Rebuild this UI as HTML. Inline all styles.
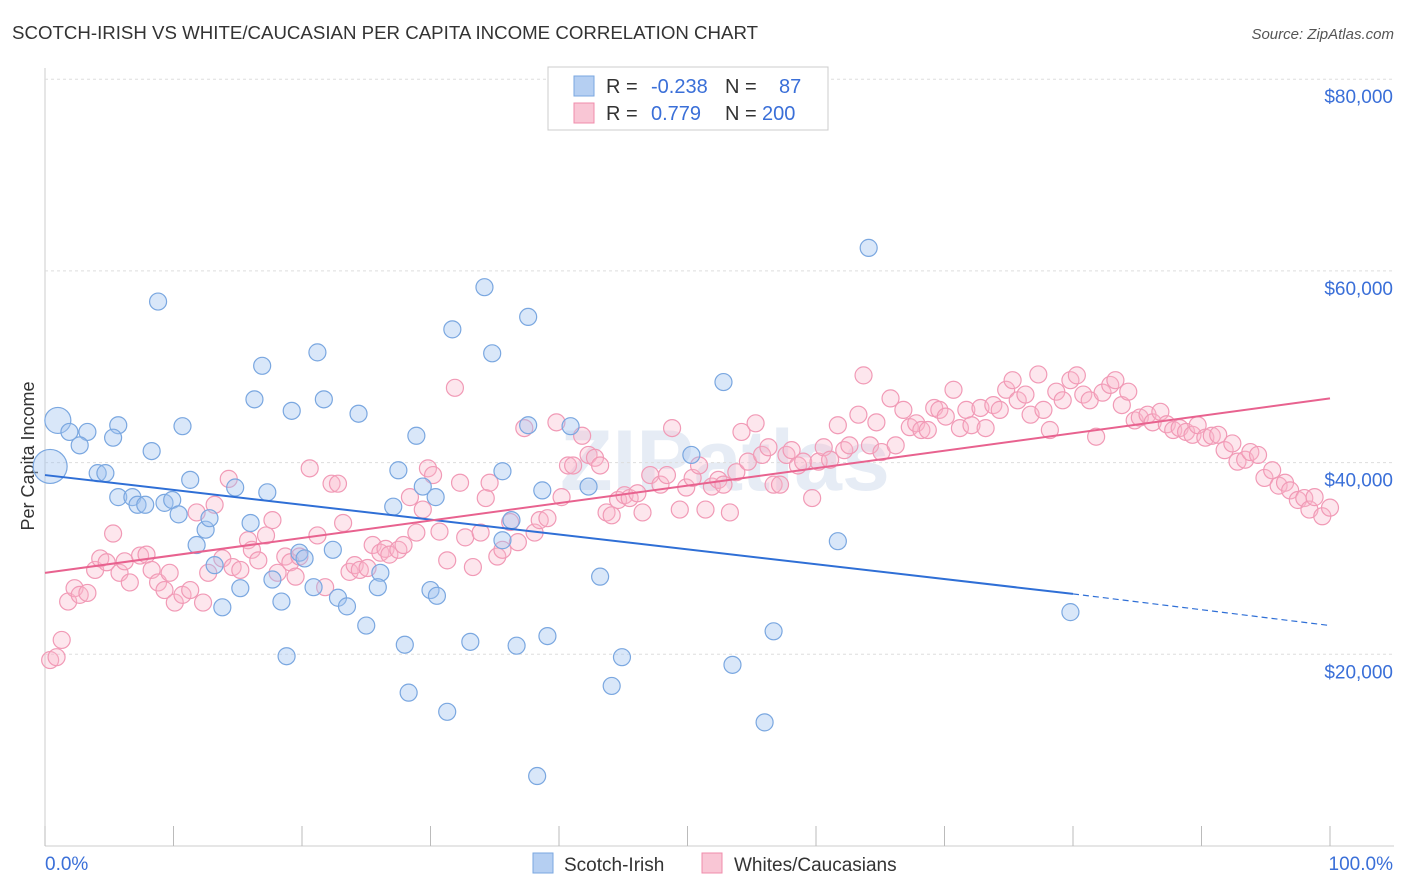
<!DOCTYPE html>
<html><head><meta charset="utf-8">
<style>
body{margin:0;background:#fff;font-family:"Liberation Sans",sans-serif;}
#wrap{position:relative;width:1406px;height:892px;overflow:hidden;}
</style></head>
<body>
<div id="wrap">
<svg id="svg" width="1406" height="892" xmlns="http://www.w3.org/2000/svg">
<text x="12" y="39" font-size="18" fill="#333" textLength="746" lengthAdjust="spacingAndGlyphs">SCOTCH-IRISH VS WHITE/CAUCASIAN PER CAPITA INCOME CORRELATION CHART</text>
<text x="1394" y="39" font-size="15" fill="#555" font-style="italic" text-anchor="end">Source: ZipAtlas.com</text>
<text x="34" y="456" font-size="18" fill="#333" text-anchor="middle" transform="rotate(-90 34 456)">Per Capita Income</text>
<text x="560" y="490" font-size="86" fill="#e6ecf5" font-weight="bold">ZIPatlas</text>
<g id="grid"></g>
<g id="marks"></g>
<g id="trends"></g>
<g>
<rect x="548" y="67" width="280" height="63" fill="#fff" stroke="#ccc"/>
<rect x="574" y="76" width="20" height="20" fill="#b5cff2" stroke="#7aa7e0"/>
<rect x="574" y="103" width="20" height="20" fill="#f9c6d5" stroke="#f08cab"/>
<text x="606" y="93" font-size="20" fill="#333">R = </text><text x="651" y="93" font-size="20" fill="#3a6fd8">-0.238</text>
<text x="725" y="93" font-size="20" fill="#333">N = </text><text x="779" y="93" font-size="20" fill="#3a6fd8">87</text>
<text x="606" y="120" font-size="20" fill="#333">R = </text><text x="651" y="120" font-size="20" fill="#3a6fd8">0.779</text>
<text x="725" y="120" font-size="20" fill="#333">N = </text><text x="762" y="120" font-size="20" fill="#3a6fd8">200</text>
</g>
<g>
<rect x="533" y="853" width="20" height="20" fill="#b5cff2" stroke="#7aa7e0"/>
<text x="564" y="871" font-size="19" fill="#333">Scotch-Irish</text>
<rect x="702" y="853" width="20" height="20" fill="#f9c6d5" stroke="#f08cab"/>
<text x="734" y="871" font-size="19" fill="#333">Whites/Caucasians</text>
</g>
<text x="45" y="870" font-size="19" fill="#3a6fd8">0.0%</text>
<text x="1393" y="870" font-size="19" fill="#3a6fd8" text-anchor="end">100.0%</text>
</svg>
</div>
<script>
const yTicks=[20000,40000,60000,80000];
const yTickLabels=["$20,000","$40,000","$60,000","$80,000"];
const xTicks=[0,10,20,30,40,50,60,70,80,90,100];
const blueX=[1.0,0.4,1.9,3.3,2.7,5.7,5.3,4.1,4.7,8.3,8.8,10.7,11.3,5.7,6.8,7.2,7.8,9.3,9.9,10.4,11.8,12.5,12.8,13.2,13.8,14.8,15.2,16.0,16.3,16.9,17.3,17.7,18.4,18.8,19.2,19.8,20.2,20.9,21.2,21.7,22.4,22.8,23.5,24.4,25.0,26.1,25.9,27.1,27.5,28.0,28.3,28.9,29.4,30.0,30.5,30.4,31.3,31.7,33.1,34.2,34.8,35.6,35.6,36.3,36.7,37.6,37.6,38.3,38.7,39.1,40.9,42.3,43.2,44.1,44.9,50.3,52.8,53.5,56.0,56.7,61.7,64.1,79.8];
const blueY=[44.4,39.6,43.2,43.2,41.8,43.9,42.6,38.9,38.9,41.2,56.8,43.8,38.2,36.4,36.4,35.6,35.6,35.8,36.1,34.6,31.4,33.0,34.2,29.3,24.9,37.4,26.9,33.7,46.6,50.1,36.9,27.8,25.5,19.8,45.4,30.6,30.0,27.0,51.5,46.6,30.9,25.9,25.0,45.1,23.0,28.5,27.0,35.4,39.2,21.0,16.0,42.8,37.5,26.7,26.1,36.4,14.0,53.9,21.3,58.3,51.4,39.1,31.9,34.0,20.9,55.2,43.9,7.3,37.1,21.9,43.8,37.5,28.1,16.7,19.7,40.8,48.4,18.9,12.9,22.4,31.8,62.4,24.4];
const pinkX=[0.4,0.9,1.3,1.8,2.3,2.7,3.3,3.9,4.3,4.8,5.3,5.8,6.2,6.6,7.4,7.9,8.3,8.8,9.3,9.7,10.1,10.7,11.3,11.8,12.3,12.7,13.2,13.8,14.3,14.6,15.2,15.8,16.1,16.6,17.2,17.7,18.1,18.7,19.1,19.5,19.8,20.6,21.2,21.8,22.3,22.8,23.2,23.7,24.1,24.5,25.1,25.5,26.1,26.5,26.8,27.5,27.9,28.4,28.9,29.4,29.8,30.2,30.7,31.3,31.9,32.3,32.7,33.3,33.9,34.3,34.6,35.2,35.6,36.2,36.8,37.3,38.1,38.5,39.1,39.8,40.2,40.7,41.1,41.8,42.3,42.8,43.2,43.7,44.1,44.6,45.1,45.5,46.1,46.5,47.1,47.9,48.4,48.8,49.4,49.9,50.4,50.9,51.4,51.9,52.4,52.8,53.3,53.8,54.2,54.7,55.3,55.8,56.3,56.7,57.2,57.7,58.1,58.6,59.0,59.7,60.2,60.6,61.1,61.7,62.2,62.6,63.3,63.7,64.2,64.7,65.1,65.8,66.2,66.8,67.3,67.8,68.2,68.7,69.2,69.6,70.1,70.7,71.2,71.7,72.1,72.8,73.2,73.8,74.3,74.8,75.3,75.7,76.3,76.7,77.3,77.7,78.2,78.7,79.2,79.8,80.3,80.8,81.3,81.8,82.3,82.9,83.3,83.8,84.3,84.8,85.2,85.8,86.2,86.8,87.3,87.8,88.3,88.8,89.3,89.7,90.3,90.8,91.3,91.8,92.4,92.8,93.4,93.8,94.4,94.9,95.5,96.0,96.5,96.9,97.5,98.0,98.4,98.8,99.4,100.0];
const pinkY=[19.4,19.7,21.5,25.5,26.9,26.2,26.4,28.8,30.0,29.6,32.6,28.5,29.7,27.5,30.3,30.4,28.8,27.5,26.7,28.5,25.4,26.2,26.7,34.8,25.4,28.5,35.6,30.0,38.3,29.1,28.8,31.9,30.9,29.8,32.4,34.0,28.5,30.2,29.6,28.1,30.2,39.4,32.4,27.0,37.8,37.8,33.7,28.6,29.3,28.8,29.0,31.4,30.6,31.0,30.4,30.9,31.4,36.4,32.7,35.1,39.4,38.7,32.8,29.8,47.8,37.9,32.2,29.1,32.7,36.3,37.9,30.2,30.9,33.8,31.7,43.6,32.7,34.0,34.2,44.2,36.4,39.7,39.7,42.8,40.8,40.5,39.7,34.8,34.5,36.1,36.6,36.3,36.8,34.8,38.7,37.7,38.7,43.6,35.1,37.4,38.4,39.7,35.1,37.5,38.2,37.7,34.8,39.0,43.2,40.1,44.1,40.8,41.6,37.7,37.7,40.8,41.3,39.7,40.1,36.3,40.1,41.6,40.3,43.9,41.3,41.8,45.0,49.1,41.8,44.2,41.1,46.7,41.8,45.5,43.7,44.1,43.4,43.4,45.7,45.5,44.8,47.6,43.6,45.5,43.9,45.7,43.6,46.0,45.5,47.6,48.6,46.5,47.1,45.0,49.2,45.5,43.4,47.4,46.5,48.6,49.1,47.1,46.5,42.7,47.3,48.1,48.6,46.0,47.4,44.4,44.7,45.0,44.2,45.3,44.0,43.4,43.6,43.2,42.9,43.9,42.6,42.8,42.9,41.3,42.0,40.1,40.3,41.1,40.8,38.4,39.2,37.6,37.9,37.1,36.1,36.3,35.1,36.4,34.4,35.3];
const blueTrendX=[0,80,100];
const blueTrendY=[38.7,26.3,23.0];
const pinkTrendX=[0,100];
const pinkTrendY=[28.5,46.7];

const NS="http://www.w3.org/2000/svg";
const X0=45,X1=1330,Y0=846,PX_PER_K=9.585;
function sx(p){return X0+(X1-X0)*p/100;}
function sy(k){return Y0-k*PX_PER_K;}
function mk(tag,attrs,parent){const e=document.createElementNS(NS,tag);for(const k in attrs)e.setAttribute(k,attrs[k]);parent.appendChild(e);return e;}
const grid=document.getElementById('grid'),marks=document.getElementById('marks'),trends=document.getElementById('trends');

let l=mk('line',{x1:X0,y1:68,x2:X0,y2:Y0,stroke:'#ccc'},grid);


l=mk('line',{x1:X0,y1:Y0,x2:1394,y2:Y0,stroke:'#ccc'},grid);


yTicks.forEach((v,i)=>{
  const y=sy(v/1000);
  const g=mk('line',{x1:X0,y1:y,x2:1394,y2:y,stroke:'#ddd','stroke-dasharray':'3,3'},grid);
  
  
  const t=mk('text',{x:1393,y:y+24,'font-size':19,fill:'#3a6fd8','text-anchor':'end'},grid);
  t.textContent=yTickLabels[i];
  
  
});
xTicks.forEach(p=>{
  const x=sx(p);
  const t=mk('line',{x1:x,y1:826,x2:x,y2:Y0,stroke:'#bbb'},grid);
  
  
});
pinkX.forEach((p,i)=>{
  const c=mk('circle',{cx:sx(p),cy:sy(pinkY[i]),r:8.5,fill:'rgba(248,182,202,0.35)',stroke:'#f19ab6','stroke-width':1.2},marks);
  
  
});
blueX.forEach((p,i)=>{
  const r=i<2?(i==0?13:17):8.5;
  const c=mk('circle',{cx:sx(p),cy:sy(blueY[i]),r:r,fill:'rgba(160,196,240,0.4)',stroke:'#7aa7e0','stroke-width':1.2},marks);
  
  
});
let t1=mk('line',{x1:sx(blueTrendX[0]),y1:sy(blueTrendY[0]),x2:sx(blueTrendX[1]),y2:sy(blueTrendY[1]),stroke:'#2f6fd6','stroke-width':2},trends);


let t2=mk('line',{x1:sx(blueTrendX[1]),y1:sy(blueTrendY[1]),x2:sx(blueTrendX[2]),y2:sy(blueTrendY[2]),stroke:'#2f6fd6','stroke-width':1.2,'stroke-dasharray':'6,4'},trends);


let t3=mk('line',{x1:sx(pinkTrendX[0]),y1:sy(pinkTrendY[0]),x2:sx(pinkTrendX[1]),y2:sy(pinkTrendY[1]),stroke:'#e8628f','stroke-width':2},trends);


</script>
</body></html>
